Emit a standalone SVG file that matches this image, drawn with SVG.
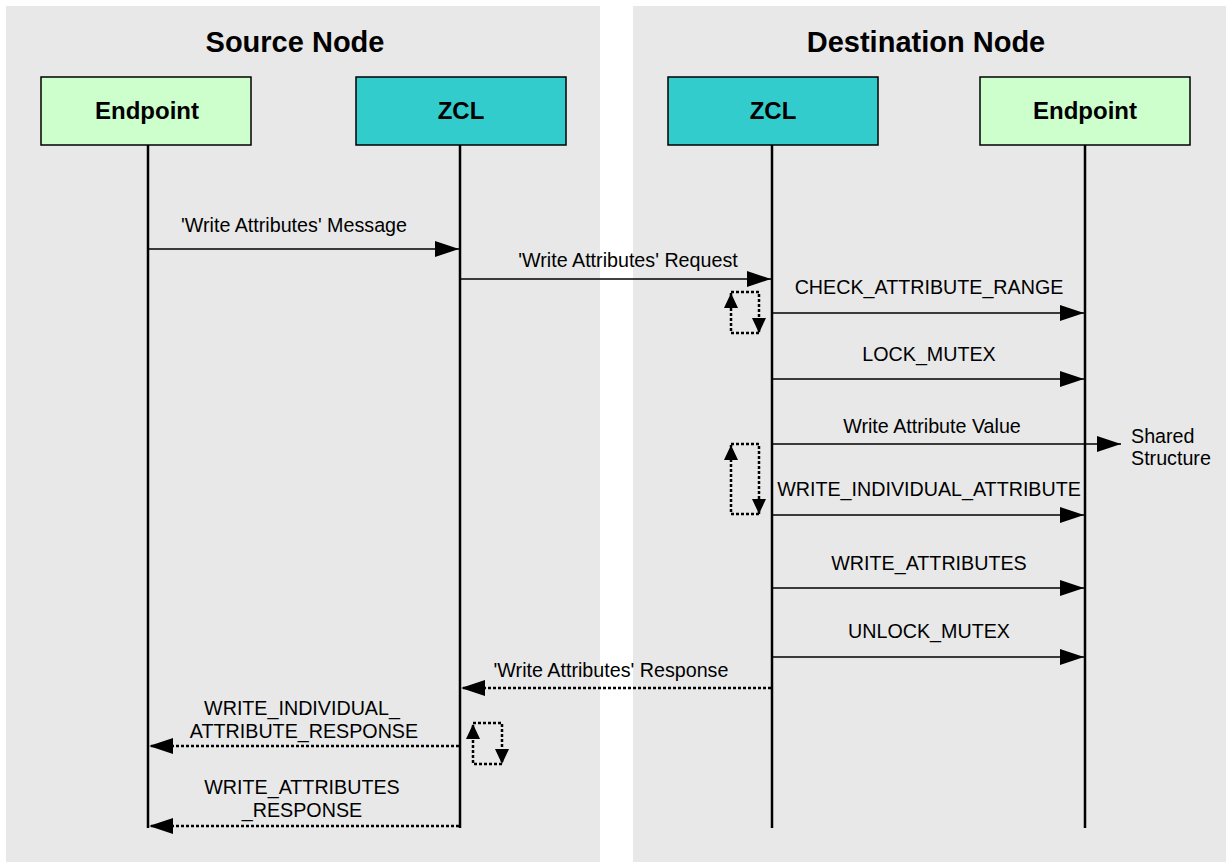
<svg xmlns="http://www.w3.org/2000/svg" width="1226" height="865" viewBox="0 0 1226 865">
  <style>
    .panel { fill: #e8e8e8; }
    .title { font: bold 29px "Liberation Sans", Arial, sans-serif; text-anchor: middle; fill: #000; }
    .box-ep { fill: #ccffcc; stroke: #000; stroke-width: 1.5; }
    .box-zcl { fill: #33cccc; stroke: #000; stroke-width: 1.5; }
    .box-label { font: bold 24px "Liberation Sans", Arial, sans-serif; text-anchor: middle; fill: #000; }
    .life { stroke: #000; stroke-width: 2.5; fill: none; }
    .msg { stroke: #000; stroke-width: 1.5; fill: none; }
    .reply { stroke: #000; stroke-width: 2.5; stroke-dasharray: 3 2; fill: none; }
    .loop { stroke: #000; stroke-width: 2.5; stroke-dasharray: 3 2; fill: none; }
    .lbl { font: 19.7px "Liberation Sans", Arial, sans-serif; text-anchor: middle; fill: #000; }
    .note { font: 19.7px "Liberation Sans", Arial, sans-serif; fill: #000; }
  </style>
  <defs>
    <marker id="arrow" markerUnits="userSpaceOnUse" markerWidth="24" markerHeight="16" viewBox="0 0 24 16" refX="24" refY="8" orient="auto">
      <path d="M0,0 L24,8 L0,16 Z" fill="#000"/>
    </marker>
    <marker id="arrow-sm" markerUnits="userSpaceOnUse" markerWidth="15" markerHeight="14" viewBox="0 0 15 14" refX="15" refY="7" orient="auto">
      <path d="M0,0 L15,7 L0,14 Z" fill="#000"/>
    </marker>
  </defs>

  <!-- background panels -->
  <rect width="1226" height="865" fill="#ffffff"/>
  <rect class="panel" x="6" y="6" width="594" height="856"/>
  <rect class="panel" x="633" y="6" width="593" height="856"/>
  <text class="title" x="295" y="52">Source Node</text>
  <text class="title" x="926" y="52">Destination Node</text>

  <!-- participants -->
  <g id="src-endpoint">
    <rect class="box-ep" x="41" y="77" width="210" height="68"/>
    <text class="box-label" x="147" y="119">Endpoint</text>
    <line class="life" x1="148" y1="145" x2="148" y2="828"/>
  </g>
  <g id="src-zcl">
    <rect class="box-zcl" x="356" y="77" width="210" height="68"/>
    <text class="box-label" x="461" y="119">ZCL</text>
    <line class="life" x1="460" y1="145" x2="460" y2="828"/>
  </g>
  <g id="dst-zcl">
    <rect class="box-zcl" x="668" y="77" width="210" height="68"/>
    <text class="box-label" x="773" y="119">ZCL</text>
    <line class="life" x1="772" y1="145" x2="772" y2="828"/>
  </g>
  <g id="dst-endpoint">
    <rect class="box-ep" x="980" y="77" width="210" height="68"/>
    <text class="box-label" x="1085" y="119">Endpoint</text>
    <line class="life" x1="1085" y1="145" x2="1085" y2="828"/>
  </g>

  <!-- messages -->
  <g id="connectors">
    <line class="msg" x1="148" y1="249" x2="459" y2="249" marker-end="url(#arrow)"/>
    <text class="lbl" x="294" y="232">'Write Attributes' Message</text>

    <line class="msg" x1="460" y1="279" x2="771" y2="279" marker-end="url(#arrow)"/>
    <text class="lbl" x="628" y="267">'Write Attributes' Request</text>

    <path class="loop" d="M759,333 L731,333 L731,293" marker-end="url(#arrow-sm)"/>
    <path class="loop" d="M731,292 L759,292 L759,333" marker-end="url(#arrow-sm)"/>

    <line class="msg" x1="772" y1="313" x2="1084" y2="313" marker-end="url(#arrow)"/>
    <text class="lbl" x="929" y="294">CHECK_ATTRIBUTE_RANGE</text>

    <line class="msg" x1="772" y1="379" x2="1084" y2="379" marker-end="url(#arrow)"/>
    <text class="lbl" x="929" y="361">LOCK_MUTEX</text>

    <line class="msg" x1="772" y1="444" x2="1121" y2="444" marker-end="url(#arrow)"/>
    <text class="lbl" x="932" y="433">Write Attribute Value</text>
    <text class="note" x="1131" y="443">Shared</text>
    <text class="note" x="1131" y="465">Structure</text>

    <path class="loop" d="M759,514 L731,514 L731,445" marker-end="url(#arrow-sm)"/>
    <path class="loop" d="M731,444 L759,444 L759,514" marker-end="url(#arrow-sm)"/>

    <line class="msg" x1="772" y1="515" x2="1084" y2="515" marker-end="url(#arrow)"/>
    <text class="lbl" x="929" y="496">WRITE_INDIVIDUAL_ATTRIBUTE</text>

    <line class="msg" x1="772" y1="588" x2="1084" y2="588" marker-end="url(#arrow)"/>
    <text class="lbl" x="929" y="570">WRITE_ATTRIBUTES</text>

    <line class="msg" x1="772" y1="657" x2="1084" y2="657" marker-end="url(#arrow)"/>
    <text class="lbl" x="929" y="638">UNLOCK_MUTEX</text>

    <line class="reply" x1="771" y1="688" x2="461" y2="688" marker-end="url(#arrow)"/>
    <text class="lbl" x="611" y="677">'Write Attributes' Response</text>

    <path class="loop" d="M502,764 L473,764 L473,724" marker-end="url(#arrow-sm)"/>
    <path class="loop" d="M473,723 L502,723 L502,764" marker-end="url(#arrow-sm)"/>

    <line class="reply" x1="459" y1="746" x2="149" y2="746" marker-end="url(#arrow)"/>
    <text class="lbl" x="302" y="715">WRITE_INDIVIDUAL_</text>
    <text class="lbl" x="304" y="738">ATTRIBUTE_RESPONSE</text>

    <line class="reply" x1="459" y1="826" x2="149" y2="826" marker-end="url(#arrow)"/>
    <text class="lbl" x="302" y="794">WRITE_ATTRIBUTES</text>
    <text class="lbl" x="302" y="817">_RESPONSE</text>
  </g>
</svg>
